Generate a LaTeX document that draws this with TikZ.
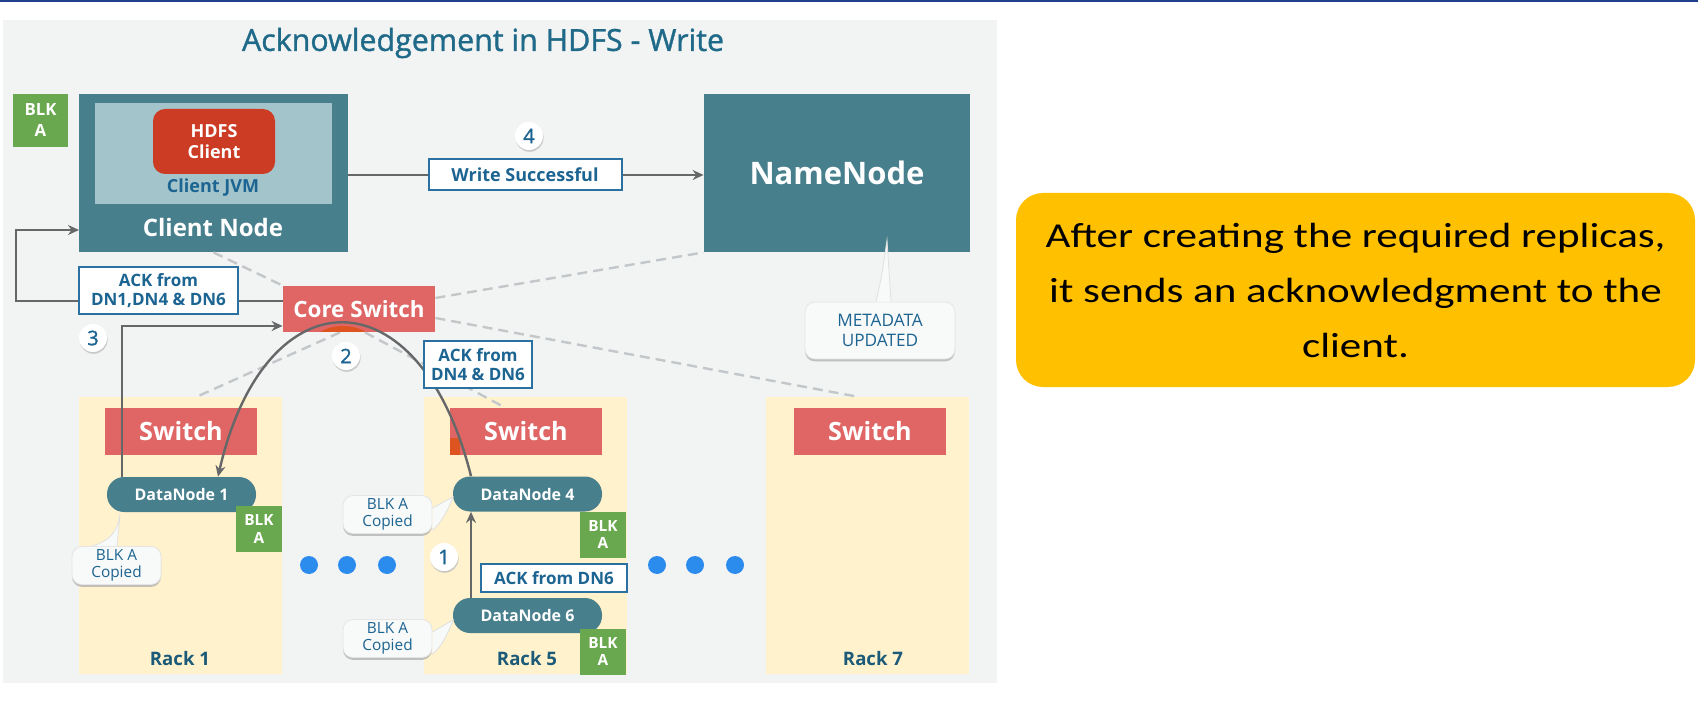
\documentclass[tikz,border=0pt]{standalone}
\usepackage{fontspec}
\setmainfont{Open Sans}
\newfontfamily\semifont[FakeBold=1.2]{Open Sans}
\newfontfamily\notefont[FakeStretch=1.23]{Carlito}
\usepackage{tikz}
\usetikzlibrary{arrows.meta, shadows}

\definecolor{bggray}{HTML}{F2F4F4}
\definecolor{topblue}{HTML}{1F3F8F}
\definecolor{tealnode}{HTML}{477F8C}
\definecolor{jvmpanel}{HTML}{A3C4CA}
\definecolor{hdfsred}{HTML}{CC3B24}
\definecolor{switchred}{HTML}{E06666}
\definecolor{switchorange}{HTML}{DD5420}
\definecolor{rackfill}{HTML}{FFF2CC}
\definecolor{blkgreen}{HTML}{6AA84F}
\definecolor{labelblue}{HTML}{1C6491}
\definecolor{ackborder}{HTML}{2A70A0}
\definecolor{titleteal}{HTML}{1F6A88}
\definecolor{rackteal}{HTML}{1B5A78}
\definecolor{dotblue}{HTML}{2B8CEE}
\definecolor{arrowgray}{HTML}{666769}
\definecolor{dashgray}{HTML}{C3C7C9}
\definecolor{callfill}{HTML}{F8F9F9}
\definecolor{noteyellow}{HTML}{FFC000}

\begin{document}
\begin{tikzpicture}[x=0.5pt, y=-0.5pt,
    every node/.style={inner sep=0pt, align=center},
    tealbox/.style={fill=tealnode, text=white, font=\bfseries},
    switchbox/.style={fill=switchred, text=white, minimum width=76pt, minimum height=23.5pt, font=\fontsize{12.6}{14}\selectfont\bfseries},
    rackbox/.style={fill=rackfill, minimum width=101.5pt, minimum height=138.5pt},
    dnode/.style={fill=tealnode, text=white, rounded corners=8.5pt, minimum width=74.5pt, minimum height=17.5pt, font=\fontsize{8}{10}\selectfont\bfseries},
    blkbox/.style={fill=blkgreen, text=white, minimum size=23pt, font=\fontsize{7.7}{8.7}\selectfont\bfseries},
    ackbox/.style={draw=ackborder, line width=1pt, fill=white, text=labelblue, font=\fontsize{8.5}{9.5}\selectfont\bfseries},
    copied/.style={fill=callfill, draw=black!10, line width=0.4pt, rounded corners=5pt, text=labelblue, minimum width=44.5pt, minimum height=19pt, font=\fontsize{7.7}{8.7}\selectfont, drop shadow={shadow xshift=0pt, shadow yshift=-1.2pt, fill=black!30, opacity=0.8}},
    tail/.style={fill=callfill, draw=black!12, line width=0.4pt},
    badge/.style={circle, fill=white, minimum size=14pt, text=labelblue, font=\semifont\fontsize{10}{12}\selectfont, drop shadow={shadow xshift=0.3pt, shadow yshift=-0.9pt, fill=black!25, opacity=0.8}},
    racklabel/.style={text=rackteal, font=\fontsize{9.3}{11}\selectfont\bfseries},
    flow/.style={draw=arrowgray, line width=1.2pt},
    arrowed/.style={-{Stealth[length=5.5pt, width=5pt]}},
    wire/.style={draw=dashgray, line width=1.2pt, dash pattern=on 5pt off 3pt}
]
        % Page and slide background
        \fill[white] (0,0) rectangle (1698,727);
        \useasboundingbox (0,0) rectangle (1698,727);
        \fill[topblue] (0,0) rectangle (1698,2);
        \fill[bggray] (3,20) rectangle (997,683);

        \node[text=titleteal, font=\semifont\fontsize{15.2}{18}\selectfont] (title) at (483,43) {Acknowledgement in HDFS - Write};

        % Racks with their switches
        \node[rackbox] (rack1) at (180.5,535.5) {};
        \node[rackbox] (rack5) at (525.5,535.5) {};
        \node[rackbox] (rack7) at (867.5,535.5) {};
        \node[switchbox] (sw1) at (181,431.5) {Switch};
        \node[switchbox] (sw5) at (526,431.5) {Switch};
        \fill[switchorange] (sw5.south west) rectangle (460,438);
        \node[switchbox] (sw7) at (870,431) {Switch};
        \node[racklabel] (rack1lbl) at (180,659) {Rack 1};
        \node[racklabel] (rack5lbl) at (527,659) {Rack 5};
        \node[racklabel] (rack7lbl) at (873,659) {Rack 7};

        % Client node with the client JVM
        \node[tealbox, minimum width=134.5pt, minimum height=79pt] (client) at (213.5,173) {};
        \node[fill=jvmpanel, minimum width=118.5pt, minimum height=50.5pt] (jvm) at (213.5,153.5) {};
        \node[fill=hdfsred, rounded corners=6pt, text=white, minimum width=61pt, minimum height=32.5pt, font=\fontsize{9}{10.5}\selectfont\bfseries] (hdfs) at (214,141.5) {HDFS\\Client};
        \node[text=labelblue, font=\fontsize{9}{11}\selectfont\bfseries] (jvmlbl) at (213,188) {Client JVM};
        \node[text=white, font=\fontsize{12}{14}\selectfont\bfseries] (clientlbl) at (213,228) {Client Node};
        \node[blkbox, minimum width=27.5pt, minimum height=26.5pt, font=\fontsize{8.4}{10.5}\selectfont\bfseries] (blk0) at (40.5,120.5) {BLK\\A};

        % NameNode and switches
        \node[tealbox, minimum width=133pt, minimum height=79pt, font=\fontsize{15.5}{18}\selectfont\bfseries] (namenode) at (837,173) {NameNode};
        \node[fill=switchred, text=white, minimum width=76pt, minimum height=23pt, font=\fontsize{11.2}{13}\selectfont\bfseries] (core) at (359,309) {Core Switch};

        % Dashed network links
        \draw[wire] (client.south) -- (core.north west);
        \draw[wire] (core.east |- 0,298) -- (namenode.south west);
        \draw[wire] (core.east |- 0,318) -- (rack7.north -| 857,0);
        \draw[wire] (core.south -| 340,0) -- (rack1.north -| 197,0);
        \draw[wire] (core.south -| 365,0) -- (sw5.north -| 505,0);

        % DataNodes and their blocks
        \node[dnode] (dn1) at (181.5,494.5) {DataNode 1};
        \node[dnode] (dn4) at (527.5,494) {DataNode 4};
        \node[dnode] (dn6) at (527.5,615.5) {DataNode 6};
        \node[blkbox] (blk1) at (259,529) {BLK\\A};
        \node[blkbox] (blk4) at (603,534.5) {BLK\\A};
        \node[blkbox] (blk6) at (603,651.5) {BLK\\A};

        % Step 4: write successful
        \node[ackbox, minimum width=96.5pt, minimum height=15.5pt, font=\fontsize{9}{10.5}\selectfont\bfseries] (write) at (525,175) {Write Successful};
        \draw[flow] (write.west -| client.east) -- (write.west);
        \draw[flow, arrowed] (write.east) -- (write.east -| namenode.west);

        % Step 3: ack back to the client
        \node[ackbox, minimum width=79.5pt, minimum height=23.5pt] (ack1) at (158.5,290.5) {ACK from\\DN1,DN4 \& DN6};
        \coordinate (ackturn) at (16,301);
        \coordinate (clin) at (79,230);
        \draw[flow] (core.west |- 0,301) -- (ack1.east |- 0,301);
        \draw[flow, arrowed] (ack1.west |- 0,301) -- (ackturn) |- (clin);
        \draw[flow, arrowed] (dn1.north -| 122,0) |- (core.west |- 0,326);

        % Step 2: DN4 to DN1 through the core switch
        \fill[switchorange] (320,332) .. controls (333,324) and (353,324) .. (366,332) -- cycle;
        \draw[flow, arrowed] (dn4.north -| 471,0) .. controls (420,272) and (265,272) .. (dn1.north -| 218,0);
        \node[ackbox, minimum width=54pt, minimum height=23.5pt] (ack2) at (478,364.5) {ACK from\\DN4 \& DN6};

        % Step 1: DN6 to DN4
        \draw[flow, arrowed] (dn6.north -| 471,0) -- (dn4.south -| 471,0);
        \node[ackbox, minimum width=73pt, minimum height=14pt] (ack3) at (554,578) {ACK from DN6};

        % Step numbers
        \node[badge] (num1) at (444,557) {1};
        \node[badge] (num2) at (346,356) {2};
        \node[badge] (num3) at (93,338) {3};
        \node[badge] (num4) at (529,136) {4};

        % Callouts
        \node[copied] (cp1) at (116.5,565.5) {BLK A\\Copied};
        \node[copied] (cp4) at (387.5,514.5) {BLK A\\Copied};
        \node[copied] (cp6) at (387.5,638.5) {BLK A\\Copied};
        \node[copied, minimum width=75pt, minimum height=28.5pt, font=\fontsize{8.6}{9.6}\selectfont] (meta) at (880,330.5) {METADATA\\UPDATED};
        \filldraw[tail] (cp1.north -| 92,0) .. controls (112,540) and (118,530) .. (120,514) -- (cp1.north -| 117,0);
        \filldraw[tail] (cp4.east |- 0,530) .. controls (440,525) and (448,510) .. (453,497) -- (cp4.east |- 0,508);
        \filldraw[tail] (cp6.east |- 0,654) .. controls (440,649) and (448,634) .. (453,620) -- (cp6.east |- 0,632);
        \filldraw[tail] (meta.north -| 876,0) .. controls (882,275) .. (887,240) -- (meta.north -| 891,0);

        % Dots between the racks
        \foreach \x in {309,347,387,657,695,735} {
            \fill[dotblue] (\x,565) circle (4.5pt);
        }

        % Note on the right
        \node[fill=noteyellow, rounded corners=13.5pt, minimum width=339.5pt, minimum height=97pt, font=\notefont\fontsize{17.5}{27.5}\selectfont] (note) at (1355.5,290) {After creating the required replicas,\\it sends an acknowledgment to the\\client.};
    \end{tikzpicture}
\end{document}
